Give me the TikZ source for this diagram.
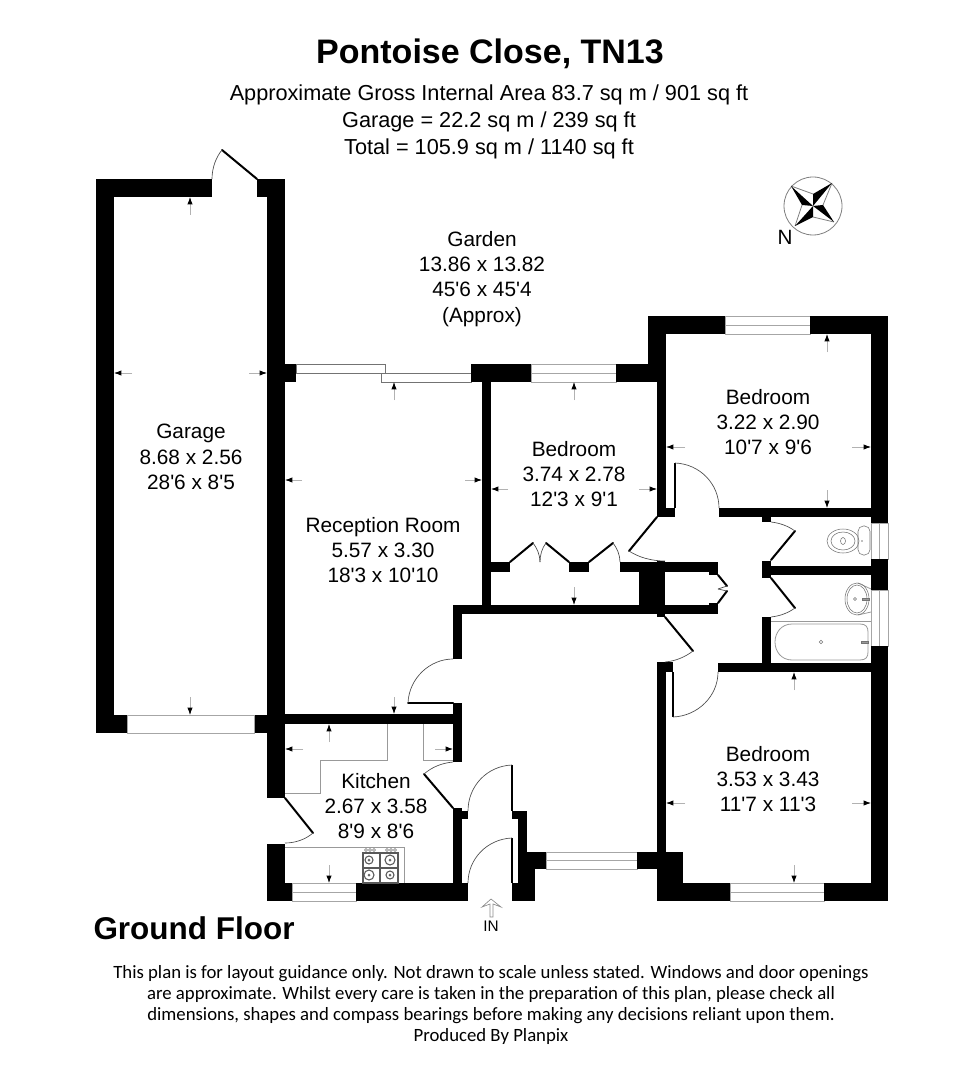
\documentclass[tikz,border=0pt]{standalone}
\usepackage{fontspec}
\setmainfont{Liberation Sans}[Ligatures=TeXOff]
\newfontfamily\noticefont{Carlito}
\usetikzlibrary{arrows.meta}

\begin{document}
\begin{tikzpicture}[x=0.75pt,y=-0.75pt,
wall/.style={fill=black,draw=none},
leaf/.style={line width=1.5pt,line cap=round},
swing/.style={draw=black!70,line width=0.5pt},
glass/.style={draw=black!35,line width=0.7pt,fill=white},
slider/.style={draw=black!55,line width=0.7pt,fill=white},
unit/.style={draw=black!40,line width=0.6pt},
hob/.style={draw=black!65,line width=0.8pt},
fitting/.style={draw=black!55,line width=0.4pt},
dim/.style={draw=black!30,line width=0.6pt,-{Latex[black,length=5.5pt,width=4pt]}},
roomlabel/.style={font=\fontsize{15.6}{18.9}\selectfont,align=center},
titletext/.style={font=\fontsize{16.27}{20.1}\selectfont,align=center}]
\useasboundingbox (0,0) rectangle (962,1080);
\fill[white] (0,0) rectangle (962,1080);

% headings
\node[font=\fontsize{25.5}{30}\bfseries\selectfont] (Title) at (490,54) {Pontoise Close, TN13};
\node[titletext] (Areas) at (489,122) {Approximate Gross Internal Area 83.7 sq m / 901 sq ft\\Garage = 22.2 sq m / 239 sq ft\\Total = 105.9 sq m / 1140 sq ft};

% garage walls
\fill[wall] (96,179) rectangle (212,197);
\fill[wall] (257,179) rectangle (285,197);
\fill[wall] (96,179) rectangle (114,733);
\fill[wall] (267,179) rectangle (285,798);
\fill[wall] (96,715) rectangle (127,733);
\fill[wall] (254,715) rectangle (285,733);
\draw[glass] (127,715) rectangle (254,733);
\draw[leaf] (257,179) -- (222,150);
\draw[swing] (222,150) .. controls (216,157) and (212,168) .. (212,179);

% top of the flat
\fill[wall] (285,364) rectangle (296,382);
\draw[slider] (296,364) rectangle (385,373);
\draw[slider] (381,373) rectangle (471,382);
\fill[wall] (471,364) rectangle (531,382);
\draw[glass] (531,364) rectangle (616,382) (531,373) -- (616,373);
\fill[wall] (616,364) rectangle (666,382);
\fill[wall] (648,316) rectangle (666,382);
\fill[wall] (648,316) rectangle (725,334);
\draw[glass] (725,316) rectangle (810,334) (725,325) -- (810,325);
\fill[wall] (810,316) rectangle (888,334);
\fill[wall] (871,316) rectangle (888,523);
\draw[glass] (871,523) rectangle (888,559) (879,523) -- (879,559);
\fill[wall] (871,559) rectangle (888,590);
\draw[glass] (871,590) rectangle (888,646) (879,590) -- (879,646);
\fill[wall] (871,646) rectangle (888,901);

% inner walls
\fill[wall] (482,382) rectangle (491,605);
\fill[wall] (657,382) rectangle (666,517);
\fill[wall] (657,508) rectangle (675,517);
\fill[wall] (719,508) rectangle (871,517);
\fill[wall] (762,517) rectangle (771,522);
\fill[wall] (762,561) rectangle (771,578);
\fill[wall] (771,566) rectangle (871,575);
\fill[wall] (762,617) rectangle (771,672);
\fill[wall] (718,663) rectangle (871,672);
\fill[wall] (491,562) rectangle (510,572);
\fill[wall] (569,562) rectangle (589,572);
\fill[wall] (620,562) rectangle (718,572);
\fill[wall] (639,562) rectangle (665,614);
\fill[wall] (657,561) rectangle (665,617);
\fill[wall] (709,562) rectangle (718,575);
\fill[wall] (709,603) rectangle (718,614);
\fill[wall] (453,605) rectangle (718,614);
\fill[wall] (453,605) rectangle (462,659);
\fill[wall] (285,714) rectangle (462,724);
\fill[wall] (453,703) rectangle (462,762);

% kitchen, front door and lower bedroom
\fill[wall] (267,844) rectangle (285,901);
\fill[wall] (267,883) rectangle (292,901);
\draw[glass] (292,883) rectangle (356,901) (292,892) -- (356,892);
\fill[wall] (356,883) rectangle (468,901);
\fill[wall] (453,808) rectangle (462,883);
\fill[wall] (462,811) rectangle (468,819);
\fill[wall] (512,811) rectangle (527,819);
\fill[wall] (518,811) rectangle (527,852);
\fill[wall] (518,852) rectangle (546,869);
\fill[wall] (518,869) rectangle (535,883);
\fill[wall] (512,883) rectangle (535,901);
\draw[glass] (546,852) rectangle (637,869) (546,860) -- (637,860);
\fill[wall] (637,852) rectangle (683,869);
\fill[wall] (657,662) rectangle (666,901);
\fill[wall] (657,662) rectangle (673,672);
\fill[wall] (657,852) rectangle (683,901);
\fill[wall] (657,883) rectangle (730,901);
\draw[glass] (730,883) rectangle (824,901) (730,892) -- (824,892);
\fill[wall] (824,883) rectangle (888,901);

% door leaves
\draw[leaf,line cap=butt] (675,463) -- (675,508);
\draw[swing] (675,463) .. controls (700,464) and (719,484) .. (719,508);
\draw[leaf] (657,517) -- (629,551);
\draw[swing] (629,551) .. controls (638,557) and (651,561) .. (665,561);
\draw[leaf] (771,560) -- (795,531);
\draw[swing] (795,531) .. controls (788,526) and (780,523) .. (771,522);
\draw[leaf] (771,578) -- (795,608);
\draw[swing] (795,608) .. controls (788,613) and (780,616) .. (771,617);
\draw[leaf] (665,617) -- (693,651);
\draw[swing] (693,651) .. controls (685,657) and (676,661) .. (665,662);
\draw[leaf,line cap=butt] (673,672) -- (673,717);
\draw[swing] (673,717) .. controls (698,716) and (718,696) .. (718,672);
\draw[leaf] (510,562) -- (533,543);
\draw[swing] (533,543) .. controls (537,548) and (540,555) .. (540,562);
\draw[leaf] (569,562) -- (546,543);
\draw[swing] (546,543) .. controls (542,548) and (540,555) .. (540,562);
\draw[leaf] (589,562) -- (613,543);
\draw[swing] (613,543) .. controls (617,548) and (620,555) .. (620,562);
\draw[leaf] (718,575) -- (727,586);
\draw[swing] (727,586) -- (718,589);
\draw[leaf] (718,603) -- (727,591);
\draw[swing] (727,591) -- (718,589);
\draw[leaf] (408,703) -- (453,703);
\draw[swing] (408,703) .. controls (409,678) and (430,659) .. (453,659);
\draw[leaf] (453,808) -- (424,774);
\draw[swing] (424,774) .. controls (432,767) and (442,763) .. (453,762);
\draw[leaf] (285,798) -- (313,833);
\draw[swing] (313,833) .. controls (306,839) and (296,843) .. (285,843);
\draw[leaf,line cap=butt] (512,765) -- (512,811);
\draw[swing] (512,765) .. controls (487,766) and (468,786) .. (468,811);
\draw[leaf,line cap=butt] (512,838) -- (512,883);
\draw[swing] (512,838) .. controls (487,839) and (468,859) .. (468,883);

% kitchen units and cooker
\draw[unit] (285,793) -- (320,793) -- (320,760) -- (387,760) -- (387,724);
\draw[unit] (423,724) -- (423,760) -- (453,760);
\draw[unit] (285,847) -- (404,847) -- (404,883);
\draw[hob] (363,853) rectangle (398,883);
\draw[hob] (380,853) -- (380,883) (363,868) -- (398,868);
\foreach \hobx/\hoby/\hobr in {369/860/4,390/860/5,369/875/5,390/875/4} {
  \draw[hob] (\hobx,\hoby) circle (\hobr);
  \fill[black!60] (\hobx,\hoby) circle (1.5);
}
\foreach \knobx in {366,370,374,387,391,395} {
  \draw[fitting] (\knobx,850) circle (1.5);
}

% bathroom and wc
\draw[unit] (771,621) -- (871,621);
\draw[unit] (792,624) -- (860,624) .. controls (866,624) and (868,627) .. (868,632) -- (868,652) .. controls (868,657) and (866,660) .. (860,660) -- (792,660) .. controls (781,660) and (775,651) .. (775,642) .. controls (775,633) and (781,624) .. (792,624);
\draw[fitting] (821,642) circle (1.7);
\draw[fitting,fill=black!40] (861,641) rectangle (868,643);
\draw[unit] (858,583) -- (871,589) (858,615) -- (871,612);
\draw[fitting] (857,599) ellipse (12 and 16);
\draw[fitting] (857,599) ellipse (10 and 14);
\draw[fitting] (855,599) circle (1.5);
\draw[fitting,fill=black!40] (862,598) rectangle (869,600);
\draw[fitting] (843,541) ellipse (16 and 12);
\draw[fitting] (843,541) ellipse (12 and 9);
\draw[fitting] (843,541) ellipse (2.5 and 3.5);
\draw[fitting,rounded corners=4pt] (858,526) rectangle (870,555);
\fill[black!50] (862,541) circle (0.8);

% dimension arrows
\draw[dim] (190,215) -- (190,197);
\draw[dim] (190,697) -- (190,715);
\draw[dim] (132,373) -- (114,373);
\draw[dim] (249,373) -- (267,373);
\draw[dim] (302,480) -- (285,480);
\draw[dim] (465,480) -- (482,480);
\draw[dim] (394,400) -- (394,382);
\draw[dim] (394,697) -- (394,714);
\draw[dim] (508,489) -- (491,489);
\draw[dim] (639,489) -- (657,489);
\draw[dim] (574,400) -- (574,382);
\draw[dim] (574,587) -- (574,605);
\draw[dim] (685,447) -- (666,447);
\draw[dim] (852,447) -- (871,447);
\draw[dim] (827,352) -- (827,334);
\draw[dim] (827,490) -- (827,508);
\draw[dim] (685,803) -- (666,803);
\draw[dim] (852,803) -- (871,803);
\draw[dim] (794,690) -- (794,672);
\draw[dim] (794,865) -- (794,883);
\draw[dim] (329,742) -- (329,724);
\draw[dim] (303,749) -- (285,749);
\draw[dim] (435,749) -- (453,749);
\draw[dim] (329,865) -- (329,883);

% compass
\draw[unit,black!50] (813,206) circle (29);
\draw[unit,black!50] (791,186) -- (813,194) (832,183) -- (823,205) (834,222) -- (813,217) (795,226) -- (802,205);
\fill (813,206) -- (791,186) -- (802,205) -- cycle;
\fill (813,206) -- (832,183) -- (813,194) -- cycle;
\fill (813,206) -- (834,222) -- (823,205) -- cycle;
\fill (813,206) -- (795,226) -- (813,217) -- cycle;
\node[font=\fontsize{15.5}{18}\selectfont] (North) at (785,237) {N};

% room labels
\node[roomlabel] (GardenLabel) at (482,279) {Garden\\13.86 x 13.82\\45'6 x 45'4\\(Approx)};
\node[roomlabel] (GarageLabel) at (191,457) {Garage\\8.68 x 2.56\\28'6 x 8'5};
\node[roomlabel] (ReceptionLabel) at (383,550) {Reception Room\\5.57 x 3.30\\18'3 x 10'10};
\node[roomlabel] (BedroomA) at (574,474) {Bedroom\\3.74 x 2.78\\12'3 x 9'1};
\node[roomlabel] (BedroomB) at (768,422) {Bedroom\\3.22 x 2.90\\10'7 x 9'6};
\node[roomlabel] (BedroomC) at (768,779) {Bedroom\\3.53 x 3.43\\11'7 x 11'3};
\node[roomlabel] (KitchenLabel) at (376,806) {Kitchen\\2.67 x 3.58\\8'9 x 8'6};

% entrance and footer
\draw[draw=black!45,line width=0.5pt] (490,917) -- (490,904) -- (482,907) -- (491,899) -- (501,907) -- (493,904) -- (493,917) -- cycle;
\node[font=\fontsize{11.5}{14}\selectfont] (EntryLabel) at (491,926) {IN};
\node[font=\fontsize{23.6}{28}\bfseries\selectfont] (FloorLabel) at (194,928) {Ground Floor};
\node[font=\noticefont\fontsize{14.07}{15.8}\selectfont,align=center] (Notice) at (491,1005) {This plan is for layout guidance only. Not drawn to scale unless stated. Windows and door openings\\are approximate. Whilst every care is taken in the preparation of this plan, please check all\\dimensions, shapes and compass bearings before making any decisions reliant upon them.\\Produced By Planpix};
\end{tikzpicture}
\end{document}
